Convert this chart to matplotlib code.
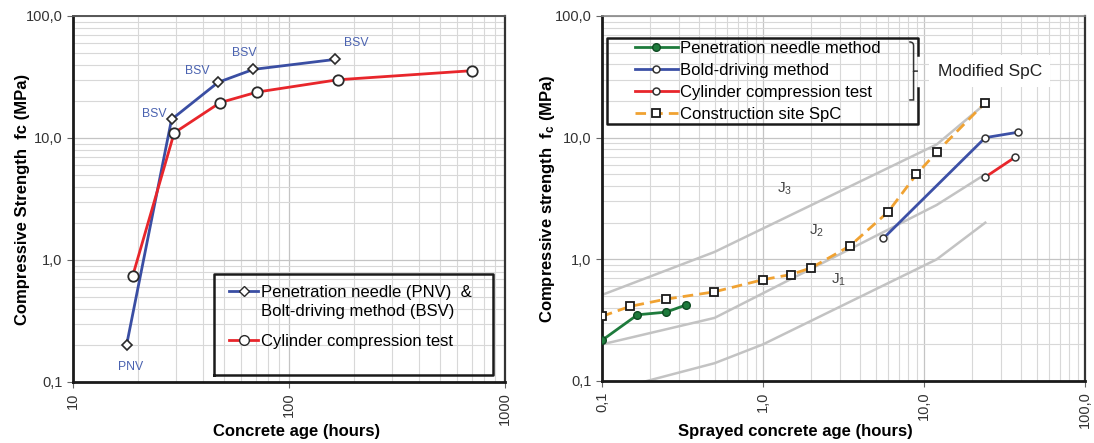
import matplotlib
matplotlib.use("Agg")
import matplotlib.pyplot as plt
from matplotlib.ticker import LogLocator, FixedLocator, FixedFormatter, NullFormatter
from matplotlib.lines import Line2D
from matplotlib.path import Path
from matplotlib.patches import PathPatch

plt.rcParams['font.family'] = ['Liberation Sans', 'DejaVu Sans']
plt.rcParams['mathtext.default'] = 'regular'

# ---- left chart: concrete age (hours) vs compressive strength (MPa)
bsv_age = [17.7, 28.6, 47, 68.4, 164]
bsv_fc = [0.20, 14.2, 28.6, 36.5, 44.1]
cyl_age = [18.9, 29.4, 48, 71.3, 168, 700]
cyl_fc = [0.74, 11.0, 19.5, 23.8, 30.0, 35.6]

# point labels (text, x, y)
point_labels = [("PNV", 18.4, 0.133), ("BSV", 23.8, 15.6), ("BSV", 37.7, 35.6),
                ("BSV", 62.4, 49.3), ("BSV", 204, 60.4)]

# ---- right chart: sprayed concrete age (hours)
needle_age = [0.1, 0.166, 0.25, 0.33]
needle_fc = [0.216, 0.35, 0.368, 0.42]
bold_age = [5.6, 24, 38.6]
bold_fc = [1.49, 10.0, 11.1]
cyl2_age = [24, 36.9]
cyl2_fc = [4.74, 6.93]
site_age = [0.1, 0.149, 0.248, 0.497, 1.0, 1.49, 1.99, 3.47, 5.98, 8.97, 12.0, 24.0]
site_fc = [0.34, 0.41, 0.47, 0.54, 0.68, 0.75, 0.85, 1.29, 2.45, 4.99, 7.62, 19.4]

# J-class boundary curves
j1_age = [0.1, 0.5, 1, 12, 24]
j1_fc = [0.08, 0.14, 0.2, 1.0, 2.0]
j2_age = [0.1, 0.5, 12, 24]
j2_fc = [0.2, 0.33, 2.8, 5.0]
j3_age = [0.1, 0.5, 12, 24]
j3_fc = [0.51, 1.15, 8.8, 19.0]
j_labels = [("J$_3$", 1.36, 3.8), ("J$_2$", 2.15, 1.72), ("J$_1$", 2.95, 0.68)]

ytick_vals = [0.1, 1, 10, 100]
ytick_txt = ["0,1", "1,0", "10,0", "100,0"]


def style_axes(ax, xticks, xtick_txt):
    ax.set_xscale('log')
    ax.set_yscale('log')
    ax.set_xlim(xticks[0], xticks[-1])
    ax.set_ylim(0.1, 100)
    ax.xaxis.set_major_locator(FixedLocator(xticks))
    ax.xaxis.set_major_formatter(FixedFormatter(xtick_txt))
    ax.yaxis.set_major_locator(FixedLocator(ytick_vals))
    ax.yaxis.set_major_formatter(FixedFormatter(ytick_txt))
    for a in (ax.xaxis, ax.yaxis):
        a.set_minor_locator(LogLocator(base=10, subs=range(2, 10)))
        a.set_minor_formatter(NullFormatter())
    ax.grid(True, which='major', color='#c4c4c4', lw=0.9)
    ax.grid(True, which='minor', color='#d8d8d8', lw=0.8)
    ax.set_axisbelow(True)
    ax.tick_params(which='major', length=4, color='#666666', labelsize=10.5,
                   labelcolor='#333333')
    ax.tick_params(which='minor', length=0)
    ax.tick_params(axis='x', labelrotation=90)
    for s in ('left', 'bottom'):
        ax.spines[s].set_linewidth(2.0)
        ax.spines[s].set_color('#1a1a1a')
    ax.spines['right'].set_linewidth(1.6)
    ax.spines['right'].set_color('#333333')
    ax.spines['top'].set_linewidth(1.4)
    ax.spines['top'].set_color('#555555')


fig = plt.figure(figsize=(10.94, 4.43), dpi=100)

# ================= left chart
ax1 = fig.add_axes([0.0667, 0.1377, 0.3949, 0.8262])
style_axes(ax1, [10, 100, 1000], ["10", "100", "1000"])

ax1.plot(bsv_age, bsv_fc, color='#3a4ea3', lw=2, marker='D', ms=5,
         mfc='white', mec='#2a2a2a', mew=1.2, zorder=4)
ax1.plot(cyl_age, cyl_fc, color='#e8262b', lw=2, marker='o', ms=7.5,
         mfc='white', mec='#2a2a2a', mew=1.3, zorder=4)
for txt, x, y in point_labels:
    ax1.text(x, y, txt, color='#4a62b0', fontsize=8.8, ha='center', va='center')

ax1.set_xlabel("Concrete age (hours)", fontsize=12, fontweight='bold')
ax1.set_ylabel("Compressive Strength  fc (MPa)", fontsize=12, fontweight='bold')
ax1.xaxis.set_label_coords(0.518, -0.115)
ax1.yaxis.set_label_coords(-0.100, 0.5)

# legend frame + two legend blocks
ax1.add_line(Line2D([0.326, 0.972, 0.972, 0.326, 0.326], [0.019, 0.019, 0.294, 0.294, 0.019],
                    transform=ax1.transAxes, color='#1a1a1a', lw=1.8, zorder=5))
h_blue = Line2D([], [], color='#3a4ea3', lw=2, marker='D', ms=5, mfc='white', mec='#2a2a2a')
h_none = Line2D([], [], color='none')
h_red = Line2D([], [], color='#e8262b', lw=2, marker='o', ms=7, mfc='white', mec='#2a2a2a')
leg_kw = dict(frameon=False, fontsize=12, borderpad=0, handlelength=1.75,
              handletextpad=0.15, labelspacing=0.2, loc='center left')
lg1 = ax1.legend([h_blue, h_none], ["Penetration needle (PNV)  &", "Bolt-driving method (BSV)"],
                 bbox_to_anchor=(0.342, 0.219), **leg_kw)
ax1.add_artist(lg1)
ax1.legend([h_red], ["Cylinder compression test"], bbox_to_anchor=(0.342, 0.112), **leg_kw)

# ================= right chart
ax2 = fig.add_axes([0.5503, 0.1400, 0.4415, 0.8239])
style_axes(ax2, [0.1, 1, 10, 100], ["0,1", "1,0", "10,0", "100,0"])
ax2.spines['top'].set_color('#888888')
ax2.spines['top'].set_linewidth(1.2)

for xs, ys in ((j1_age, j1_fc), (j2_age, j2_fc), (j3_age, j3_fc)):
    ax2.plot(xs, ys, color='#c3c3c3', lw=1.8, zorder=2)
for txt, x, y in j_labels:
    ax2.text(x, y, txt, color='#444444', fontsize=11, ha='center', va='center')

ax2.plot(needle_age, needle_fc, color='#1e7b3c', lw=2, marker='o', ms=5.5,
         mfc='#1e7b3c', mec='#0e4a22', zorder=4, label="Penetration needle method")
ax2.plot(bold_age, bold_fc, color='#3c50a6', lw=2, marker='o', ms=5,
         mfc='white', mec='#333333', mew=1.1, zorder=4, label="Bold-driving method")
ax2.plot(cyl2_age, cyl2_fc, color='#e8262b', lw=2, marker='o', ms=5,
         mfc='white', mec='#333333', mew=1.1, zorder=4, label="Cylinder compression test")
ax2.plot(site_age, site_fc, color='#f0a232', lw=2, ls=(0, (3.8, 2.2)), marker='s', ms=6,
         mfc='white', mec='#1a1a1a', mew=1.3, zorder=3, label="Construction site SpC")

ax2.set_xlabel("Sprayed concrete age (hours)", fontsize=12, fontweight='bold')
ax2.set_ylabel("Compressive strength  f$_c$ (MPa)", fontsize=12, fontweight='bold')
ax2.xaxis.set_label_coords(0.40, -0.118)
ax2.yaxis.set_label_coords(-0.093, 0.5)

ax2.legend(frameon=False, fontsize=12, borderpad=0, handlelength=2.6, handletextpad=0.12,
           labelspacing=0.42, loc='center left', bbox_to_anchor=(0.05, 0.820))

# legend frame with a gap on the right for the brace
ax2.add_line(Line2D([0.654, 0.654, 0.010, 0.010, 0.654, 0.654],
                    [0.893, 0.939, 0.939, 0.705, 0.705, 0.803],
                    transform=ax2.transAxes, color='#1a1a1a', lw=1.8, zorder=5))
bx0, bx1, bxm = 0.636, 0.654, 0.645
by0, by1, bym = 0.770, 0.929, 0.849
verts = [(bx0, by1), (bxm, by1), (bxm, by1 - 0.01), (bxm, by1 - 0.02),
         (bxm, bym + 0.01), (bxm, bym), (bx1, bym),
         (bxm, bym), (bxm, bym - 0.01), (bxm, by0 + 0.02),
         (bxm, by0 + 0.01), (bxm, by0), (bx0, by0)]
codes = [Path.MOVETO, Path.CURVE3, Path.CURVE3, Path.LINETO,
         Path.CURVE3, Path.CURVE3, Path.LINETO,
         Path.MOVETO, Path.CURVE3, Path.LINETO,
         Path.CURVE3, Path.CURVE3, Path.LINETO]
ax2.add_patch(PathPatch(Path(verts, codes), transform=ax2.transAxes, fill=False,
                        edgecolor='#333333', lw=1.1, zorder=5))
ax2.text(0.803, 0.849, "Modified SpC", transform=ax2.transAxes, fontsize=12.5,
         color='#222222', ha='center', va='center', zorder=5,
         bbox=dict(facecolor='white', edgecolor='none', pad=6))

fig.savefig("out.png", dpi=100)
